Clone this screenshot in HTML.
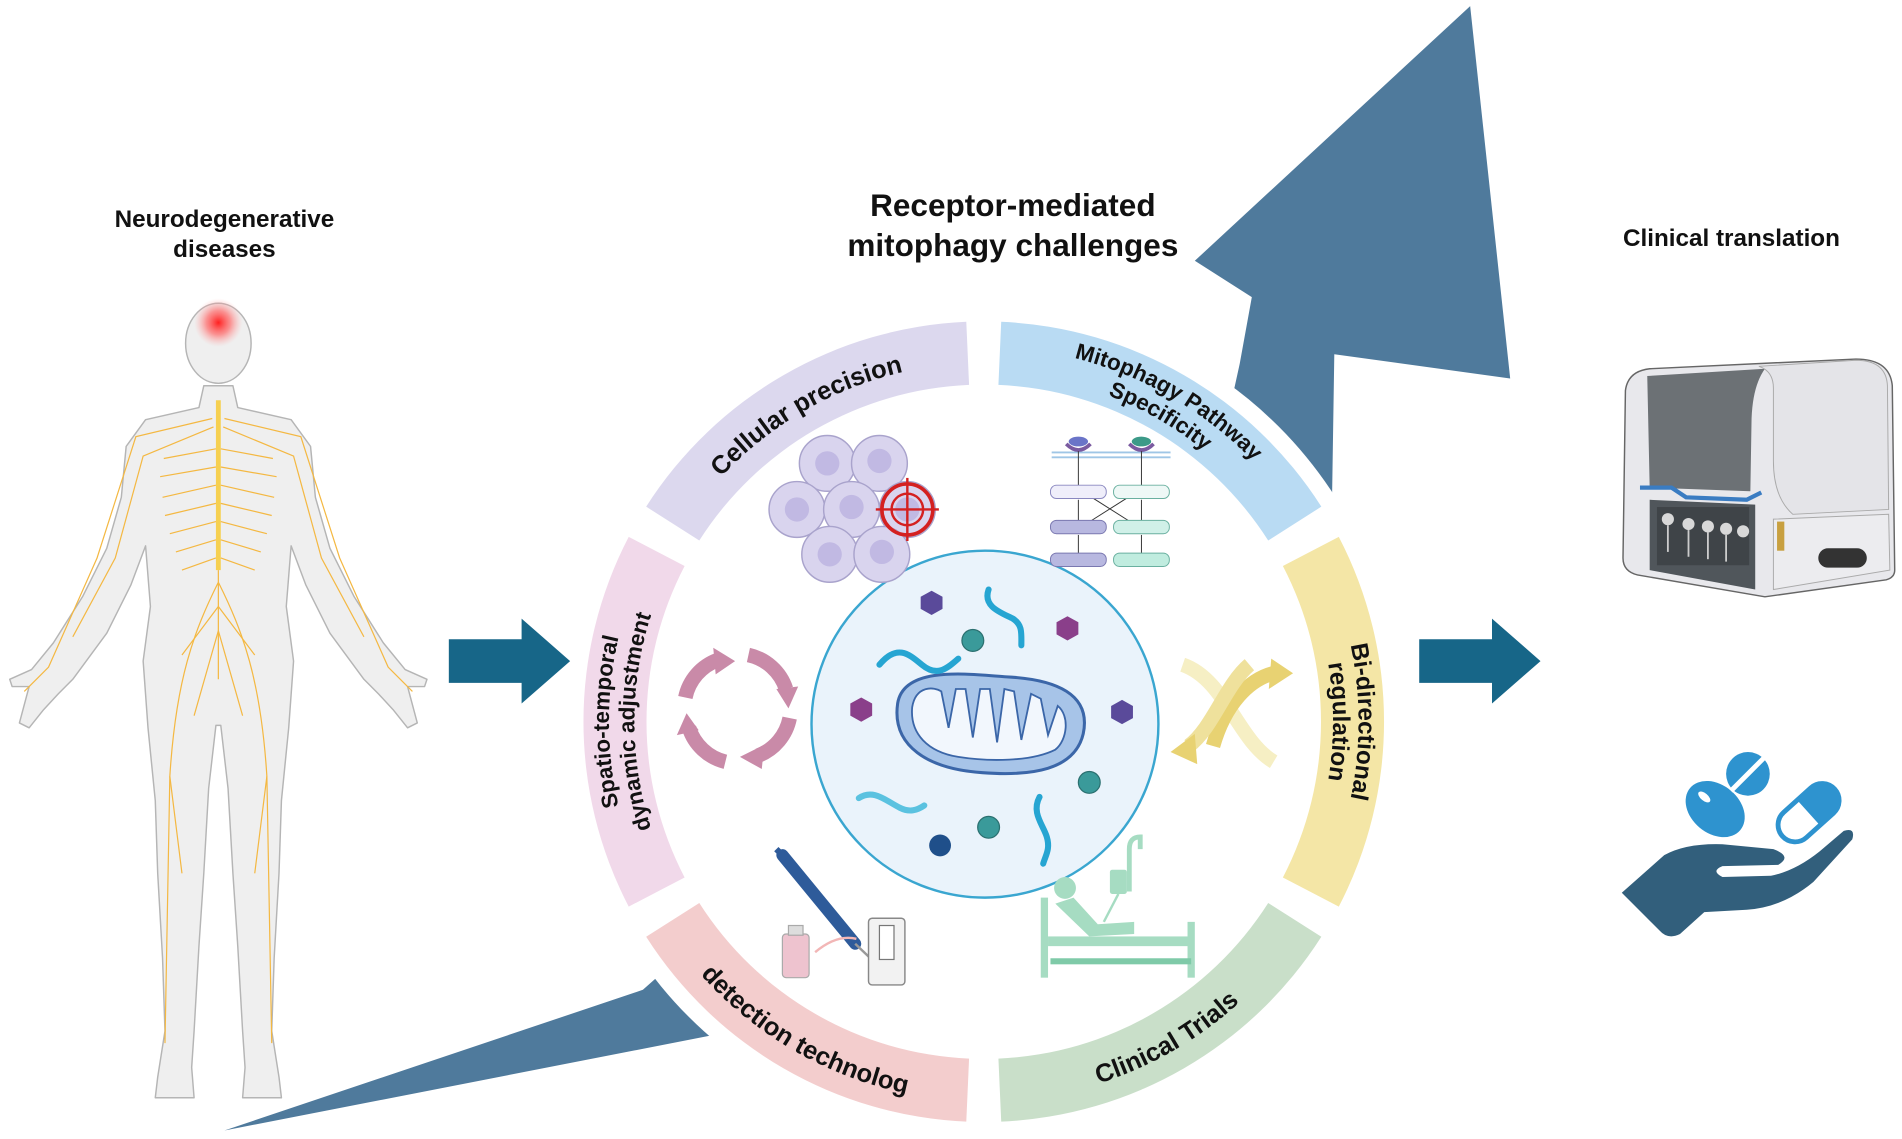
<!DOCTYPE html>
<html><head><meta charset="utf-8"><style>
html,body{margin:0;padding:0;background:#fff;}
svg{display:block;}
text{font-family:"Liberation Sans",Arial,sans-serif;font-weight:bold;fill:#111;}
</style></head><body>
<svg width="1902" height="1139" viewBox="0 0 1568 939" xmlns="http://www.w3.org/2000/svg">
<defs>
<radialGradient id="glow" cx="0.5" cy="0.5" r="0.5"><stop offset="0" stop-color="#ff2020"/><stop offset="0.5" stop-color="#ff6a6a" stop-opacity="0.7"/><stop offset="1" stop-color="#ffb0b0" stop-opacity="0"/></radialGradient>
<path id="ct296" d="M-148,-256.3 A296,296 0 0 1 148,-256.3"/>
<path id="ct309" d="M-154.5,-267.6 A309,309 0 0 1 154.5,-267.6"/>
<path id="ct288" d="M-144,-249.4 A288,288 0 0 1 144,-249.4"/>
<path id="cb313" d="M-156.5,271.1 A313,313 0 0 0 156.5,271.1"/>
</defs>

<!-- big curved arrow -->
<path d="M185,932 L530,816 L1000,400 L1022,300 L1032,245 L985,215 L1212,5 L1245,312 L1100,292 L1098,420 L605,850 Z" fill="#4f7a9c"/>
<circle cx="811" cy="595" r="344" fill="#fff"/>

<!-- ring segments -->
<path d="M532.7,417.7 A330,330 0 0 1 796.6,265.3 L798.9,317.3 A278,278 0 0 0 576.5,445.6 Z" fill="#dcd8ee"/>
<path d="M825.4,265.3 A330,330 0 0 1 1089.3,417.7 L1045.5,445.6 A278,278 0 0 0 823.1,317.3 Z" fill="#b9dbf3"/>
<path d="M1103.7,442.6 A330,330 0 0 1 1103.7,747.4 L1057.6,723.4 A278,278 0 0 0 1057.6,466.6 Z" fill="#f4e6a6"/>
<path d="M1089.3,772.3 A330,330 0 0 1 825.4,924.7 L823.1,872.7 A278,278 0 0 0 1045.5,744.4 Z" fill="#c9dfc9"/>
<path d="M796.6,924.7 A330,330 0 0 1 532.7,772.3 L576.5,744.4 A278,278 0 0 0 798.9,872.7 Z" fill="#f3cdcd"/>
<path d="M518.3,747.4 A330,330 0 0 1 518.3,442.6 L564.4,466.6 A278,278 0 0 0 564.4,723.4 Z" fill="#f1d9ea"/>

<!-- ring texts -->
<g transform="translate(811,595) rotate(-30)"><text font-size="21"><textPath href="#ct296" startOffset="50%" text-anchor="middle">Cellular precision</textPath></text></g>
<g transform="translate(811,595) rotate(30)"><text font-size="18.5"><textPath href="#ct309" startOffset="50%" text-anchor="middle">Mitophagy Pathway</textPath></text><text font-size="18.5"><textPath href="#ct288" startOffset="50%" text-anchor="middle">Specificity</textPath></text></g>
<g transform="translate(811,595) rotate(90)"><text font-size="20"><textPath href="#ct309" startOffset="50%" text-anchor="middle">Bi-directional</textPath></text><text font-size="20"><textPath href="#ct288" startOffset="50%" text-anchor="middle">regulation</textPath></text></g>
<g transform="translate(811,595) rotate(-90)"><text font-size="18.5"><textPath href="#ct309" startOffset="50%" text-anchor="middle">Spatio-temporal</textPath></text><text font-size="18.5"><textPath href="#ct288" startOffset="50%" text-anchor="middle">dynamic adjustment</textPath></text></g>
<g transform="translate(811,595) rotate(30)"><text font-size="21"><textPath href="#cb313" startOffset="50%" text-anchor="middle">detection technolog</textPath></text></g>
<g transform="translate(811,595) rotate(-30)"><text font-size="21"><textPath href="#cb313" startOffset="50%" text-anchor="middle">Clinical Trials</textPath></text></g>

<!-- center circle -->
<circle cx="812" cy="597" r="143" fill="#eaf3fb" stroke="#3aa6d0" stroke-width="2"/>
<!-- mitochondrion -->
<path d="M740,580 C745,548 800,556 830,558 C870,560 900,572 893,605 C886,635 850,640 810,637 C765,634 735,615 740,580 Z" fill="#a7c4e8" stroke="#3b66a8" stroke-width="2.5"/>
<path d="M752,583 C755,565 770,566 776,570 L782,600 L788,568 L796,568 L802,608 L808,568 L816,568 L822,612 L828,568 L836,570 L842,610 L850,572 L858,576 L864,606 L872,582 C882,590 880,610 870,618 C850,628 815,628 790,624 C765,620 750,605 752,583 Z" fill="#f2f7fd" stroke="#3b66a8" stroke-width="1.5"/>
<!-- particles -->
<g fill="#5a4a9a"><polygon points="768,487 777,492 777,502 768,507 759,502 759,492"/><polygon points="925,577 934,582 934,592 925,597 916,592 916,582"/></g>
<g fill="#8a3f8a"><polygon points="880,508 889,513 889,523 880,528 871,523 871,513"/><polygon points="710,575 719,580 719,590 710,595 701,590 701,580"/></g>
<g fill="#3a9a9a" stroke="#2b7070" stroke-width="1"><circle cx="802" cy="528" r="9"/><circle cx="898" cy="645" r="9"/><circle cx="815" cy="682" r="9"/></g>
<circle cx="775" cy="697" r="9" fill="#1f4f8a"/>
<g fill="none" stroke="#26a5d2" stroke-width="5" stroke-linecap="round">
<path d="M725,548 C740,530 750,540 760,548 C772,558 780,552 790,543"/>
<path d="M815,486 C810,500 825,505 835,510 C843,515 842,522 842,532"/>
<path d="M708,658 C720,650 730,660 742,666 C750,670 756,668 762,664" stroke="#5bc2e0"/>
<path d="M857,657 C850,670 860,680 863,690 C866,700 862,705 860,712"/>
</g>

<!-- cells -->
<g fill="#d9d4ee" stroke="#a9a3cc" stroke-width="1.2">
<circle cx="682" cy="382" r="23"/><circle cx="725" cy="382" r="23"/>
<circle cx="657" cy="420" r="23"/><circle cx="702" cy="420" r="23"/><circle cx="748" cy="420" r="23"/>
<circle cx="684" cy="457" r="23"/><circle cx="727" cy="457" r="23"/>
</g>
<g fill="#c1b9e3"><circle cx="682" cy="382" r="10"/><circle cx="725" cy="380" r="10"/><circle cx="657" cy="420" r="10"/><circle cx="702" cy="418" r="10"/><circle cx="748" cy="420" r="10"/><circle cx="684" cy="457" r="10"/><circle cx="727" cy="455" r="10"/></g>
<g fill="none" stroke="#d42020" stroke-width="3"><circle cx="748" cy="420" r="21"/><circle cx="748" cy="420" r="13" stroke-width="2"/></g>
<g stroke="#d42020" stroke-width="2"><line x1="722" y1="420" x2="774" y2="420"/><line x1="748" y1="394" x2="748" y2="446"/></g>

<!-- pathway diagram -->
<g stroke="#9fc6e6" stroke-width="1.5"><line x1="867" y1="373" x2="965" y2="373"/><line x1="867" y1="377" x2="965" y2="377"/></g>
<ellipse cx="889" cy="364" rx="8" ry="4" fill="#6a74c8"/><ellipse cx="941" cy="364" rx="8" ry="4" fill="#3c9a88"/>
<path d="M879,366 Q889,376 899,366" fill="none" stroke="#7a5aa0" stroke-width="3"/><path d="M931,366 Q941,376 951,366" fill="none" stroke="#7a5aa0" stroke-width="3"/>
<g stroke="#333" stroke-width="0.8"><line x1="889" y1="372" x2="889" y2="400"/><line x1="941" y1="372" x2="941" y2="400"/><line x1="889" y1="412" x2="889" y2="429"/><line x1="941" y1="412" x2="941" y2="429"/><line x1="889" y1="441" x2="889" y2="456"/><line x1="941" y1="441" x2="941" y2="456"/><line x1="900" y1="410" x2="930" y2="429"/><line x1="930" y1="410" x2="900" y2="429"/></g>
<g stroke-width="0.8">
<rect x="866" y="400" width="46" height="11" rx="5" fill="#efeefa" stroke="#8a88c0"/><rect x="918" y="400" width="46" height="11" rx="5" fill="#eef8f6" stroke="#6ab0a0"/>
<rect x="866" y="429" width="46" height="11" rx="5" fill="#b8b8e0" stroke="#7a78b0"/><rect x="918" y="429" width="46" height="11" rx="5" fill="#d0f0e8" stroke="#6ab0a0"/>
<rect x="866" y="456" width="46" height="11" rx="5" fill="#b8b8e0" stroke="#7a78b0"/><rect x="918" y="456" width="46" height="11" rx="5" fill="#c0ecdf" stroke="#6ab0a0"/>
</g>

<!-- cycle arrows -->
<g fill="none" stroke="#c98aa8" stroke-width="12">
<path d="M565,575 A42,42 0 0 1 592,544"/><path d="M617,540 A42,42 0 0 1 648,568"/>
<path d="M651,592 A42,42 0 0 1 625,623"/><path d="M598,628 A42,42 0 0 1 568,600"/>
</g>
<g fill="#c98aa8"><polygon points="588,534 606,545 590,556"/><polygon points="640,568 658,566 650,584"/><polygon points="630,614 610,624 628,634"/><polygon points="558,606 566,588 576,602"/></g>

<!-- yellow swirl -->
<g fill="none" stroke-width="12" stroke-linecap="butt">
<path d="M975,548 C1010,560 1020,610 1050,628" stroke="#f6efc4"/>
<path d="M1000,615 C1010,580 1030,560 1050,555" stroke="#e8d272"/>
<path d="M1030,548 C1010,565 1000,600 980,615" stroke="#efe19c"/>
</g>
<polygon points="1048,543 1066,555 1046,568" fill="#e8d272"/>
<polygon points="985,605 965,620 987,630" fill="#e8d272"/>

<!-- pipette & test -->
<line x1="645" y1="705" x2="705" y2="778" stroke="#2e5b9a" stroke-width="10" stroke-linecap="round"/>
<line x1="640" y1="700" x2="648" y2="708" stroke="#2e5b9a" stroke-width="5"/>
<line x1="705" y1="778" x2="728" y2="800" stroke="#999" stroke-width="2"/>
<rect x="716" y="757" width="30" height="55" rx="3" fill="#f2f2f2" stroke="#888" stroke-width="1.2"/>
<rect x="725" y="763" width="12" height="28" fill="#fff" stroke="#777" stroke-width="1"/>
<rect x="645" y="770" width="22" height="36" rx="3" fill="#eec3cf" stroke="#aaa"/>
<rect x="650" y="763" width="12" height="8" fill="#ddd" stroke="#aaa"/>
<path d="M672,785 Q690,770 706,774" fill="none" stroke="#f2b6b6" stroke-width="2"/>

<!-- patient bed -->
<g fill="#a6dcc2">
<circle cx="878" cy="732" r="9"/>
<path d="M870,745 L885,740 L905,762 L935,760 L935,770 L898,772 Z"/>
<rect x="858" y="740" width="6" height="66"/><rect x="979" y="760" width="6" height="46"/>
<rect x="864" y="772" width="118" height="8"/><rect x="866" y="790" width="116" height="5" fill="#7fcaa8"/>
<rect x="915" y="717" width="14" height="20" rx="2"/><path d="M931,735 L931,700 Q931,690 940,690 L940,700" fill="none" stroke="#a6dcc2" stroke-width="4"/>
<line x1="922" y1="737" x2="910" y2="760" stroke="#a6dcc2" stroke-width="2"/>
</g>

<!-- blue block arrows -->
<path d="M370,527 L430,527 L430,510 L470,545 L430,580 L430,563 L370,563 Z" fill="#176688"/>
<path d="M1170,527 L1230,527 L1230,510 L1270,545 L1230,580 L1230,563 L1170,563 Z" fill="#176688"/>

<!-- human -->
<path d="M192,318 L196,336 L240,346 L256,368 L260,410 L272,452 L292,492 L316,530 L334,552 L352,560 L350,566 L336,566 L344,596 L336,600 L324,585 L312,572 L300,560 L272,522 L252,482 L240,450 L236,500 L242,545 L238,600 L232,660 L230,720 L226,790 L224,850 L230,888 L232,905 L200,905 L202,880 L200,850 L196,780 L192,720 L188,650 L182,598 L178,598 L172,650 L168,720 L164,780 L160,850 L158,880 L160,905 L128,905 L130,888 L136,850 L134,790 L130,720 L128,660 L122,600 L118,545 L124,500 L120,450 L108,482 L88,522 L60,560 L48,572 L36,585 L24,600 L16,596 L24,566 L10,566 L8,560 L26,552 L44,530 L68,492 L88,452 L100,410 L104,368 L120,346 L164,336 L168,318 Z" fill="#efefef" stroke="#b5b5b5" stroke-width="1.2" stroke-linejoin="round"/>
<ellipse cx="180" cy="283" rx="27" ry="33" fill="#efefef" stroke="#b5b5b5" stroke-width="1.2"/>
<circle cx="180" cy="266" r="20" fill="url(#glow)"/>
<g fill="none" stroke="#f4b842" stroke-width="1">
<line x1="180" y1="330" x2="180" y2="470" stroke="#f6d050" stroke-width="4"/>
<path d="M180,470 L180,560 M180,480 C160,520 145,560 140,640 L136,860 M180,480 C200,520 215,560 220,640 L224,860"/>
<path d="M175,345 L112,360 L80,460 L40,550 L20,570 M185,345 L248,360 L280,460 L320,550 L340,570"/>
<path d="M176,352 L118,376 L95,460 L60,525 M184,352 L242,376 L265,460 L300,525"/>
<path d="M178,370 L135,378 M182,370 L225,378 M178,385 L132,393 M182,385 L228,393 M178,400 L134,410 M182,400 L226,410 M178,415 L136,425 M182,415 L224,425 M178,430 L140,440 M182,430 L220,440 M178,445 L145,455 M182,445 L215,455 M178,460 L150,470 M182,460 L210,470"/>
<path d="M180,500 L150,540 M180,500 L210,540 M180,520 L160,590 M180,520 L200,590 M140,640 L150,720 M220,640 L210,720"/>
</g>

<!-- machine -->
<path d="M1340,322 Q1342,306 1360,304 L1530,296 Q1558,296 1560,318 L1562,470 Q1562,476 1555,478 L1455,492 L1350,474 Q1338,471 1338,460 Z" fill="#e8e8ec" stroke="#666" stroke-width="1.2"/>
<path d="M1358,310 L1455,304 Q1445,318 1444,345 L1443,405 L1360,402 Z" fill="#6c7175"/>
<path d="M1450,302 L1530,297 Q1555,297 1556,318 L1557,420 L1478,424 Q1462,410 1462,380 L1462,320 Q1462,306 1450,302 Z" fill="#e4e4e8" stroke="#aaa" stroke-width="0.8"/>
<path d="M1462,428 L1557,424 L1558,470 L1462,486 Z" fill="#ececef" stroke="#aaa" stroke-width="0.8"/>
<path d="M1352,402 L1378,402 L1390,410 L1440,412 L1452,406" fill="none" stroke="#3a7cc2" stroke-width="3.5"/>
<path d="M1360,412 L1447,416 L1447,486 L1360,470 Z" fill="#50565b"/>
<rect x="1366" y="418" width="76" height="48" fill="#3f4448"/>
<g fill="#d8d8d8"><circle cx="1375" cy="428" r="5"/><circle cx="1392" cy="432" r="5"/><circle cx="1408" cy="434" r="5"/><circle cx="1423" cy="436" r="5"/><circle cx="1437" cy="438" r="5"/></g>
<g stroke="#ccc" stroke-width="1.5"><line x1="1375" y1="433" x2="1375" y2="455"/><line x1="1392" y1="437" x2="1392" y2="459"/><line x1="1408" y1="439" x2="1408" y2="461"/><line x1="1423" y1="441" x2="1423" y2="463"/></g>
<rect x="1499" y="452" width="40" height="16" rx="8" fill="#333"/>
<rect x="1465" y="430" width="6" height="24" fill="#c8a040"/>

<!-- hand & pills -->
<ellipse cx="1414" cy="667" rx="27" ry="20" transform="rotate(40 1414 667)" fill="#2e93cf"/>
<ellipse cx="1405" cy="657" rx="6" ry="3" transform="rotate(40 1405 657)" fill="#fff"/>
<circle cx="1441" cy="638" r="18" fill="#2e93cf"/>
<line x1="1427" y1="652" x2="1455" y2="624" stroke="#fff" stroke-width="4"/>
<g transform="rotate(-42 1491 670)"><rect x="1462" y="656" width="58" height="28" rx="14" fill="#fff" stroke="#2e93cf" stroke-width="4"/><path d="M1491,656 L1506,656 A14,14 0 0 1 1506,684 L1491,684 Z" fill="#2e93cf"/></g>
<path d="M1337,736 L1372,705 Q1390,695 1420,696 L1462,700 Q1478,706 1466,713 L1420,714 Q1410,718 1420,723 L1460,722 Q1480,718 1500,702 L1520,685 Q1530,682 1527,692 L1495,727 Q1470,748 1440,750 L1405,752 L1385,770 Q1375,775 1368,767 Z" fill="#325f7c"/>

<!-- labels -->
<text x="185" y="187" font-size="20" text-anchor="middle">Neurodegenerative</text>
<text x="185" y="212" font-size="20" text-anchor="middle">diseases</text>
<text x="835" y="178" font-size="26" text-anchor="middle">Receptor-mediated</text>
<text x="835" y="211" font-size="26" text-anchor="middle">mitophagy challenges</text>
<text x="1338" y="203" font-size="20">Clinical translation</text>
</svg>
</body></html>
